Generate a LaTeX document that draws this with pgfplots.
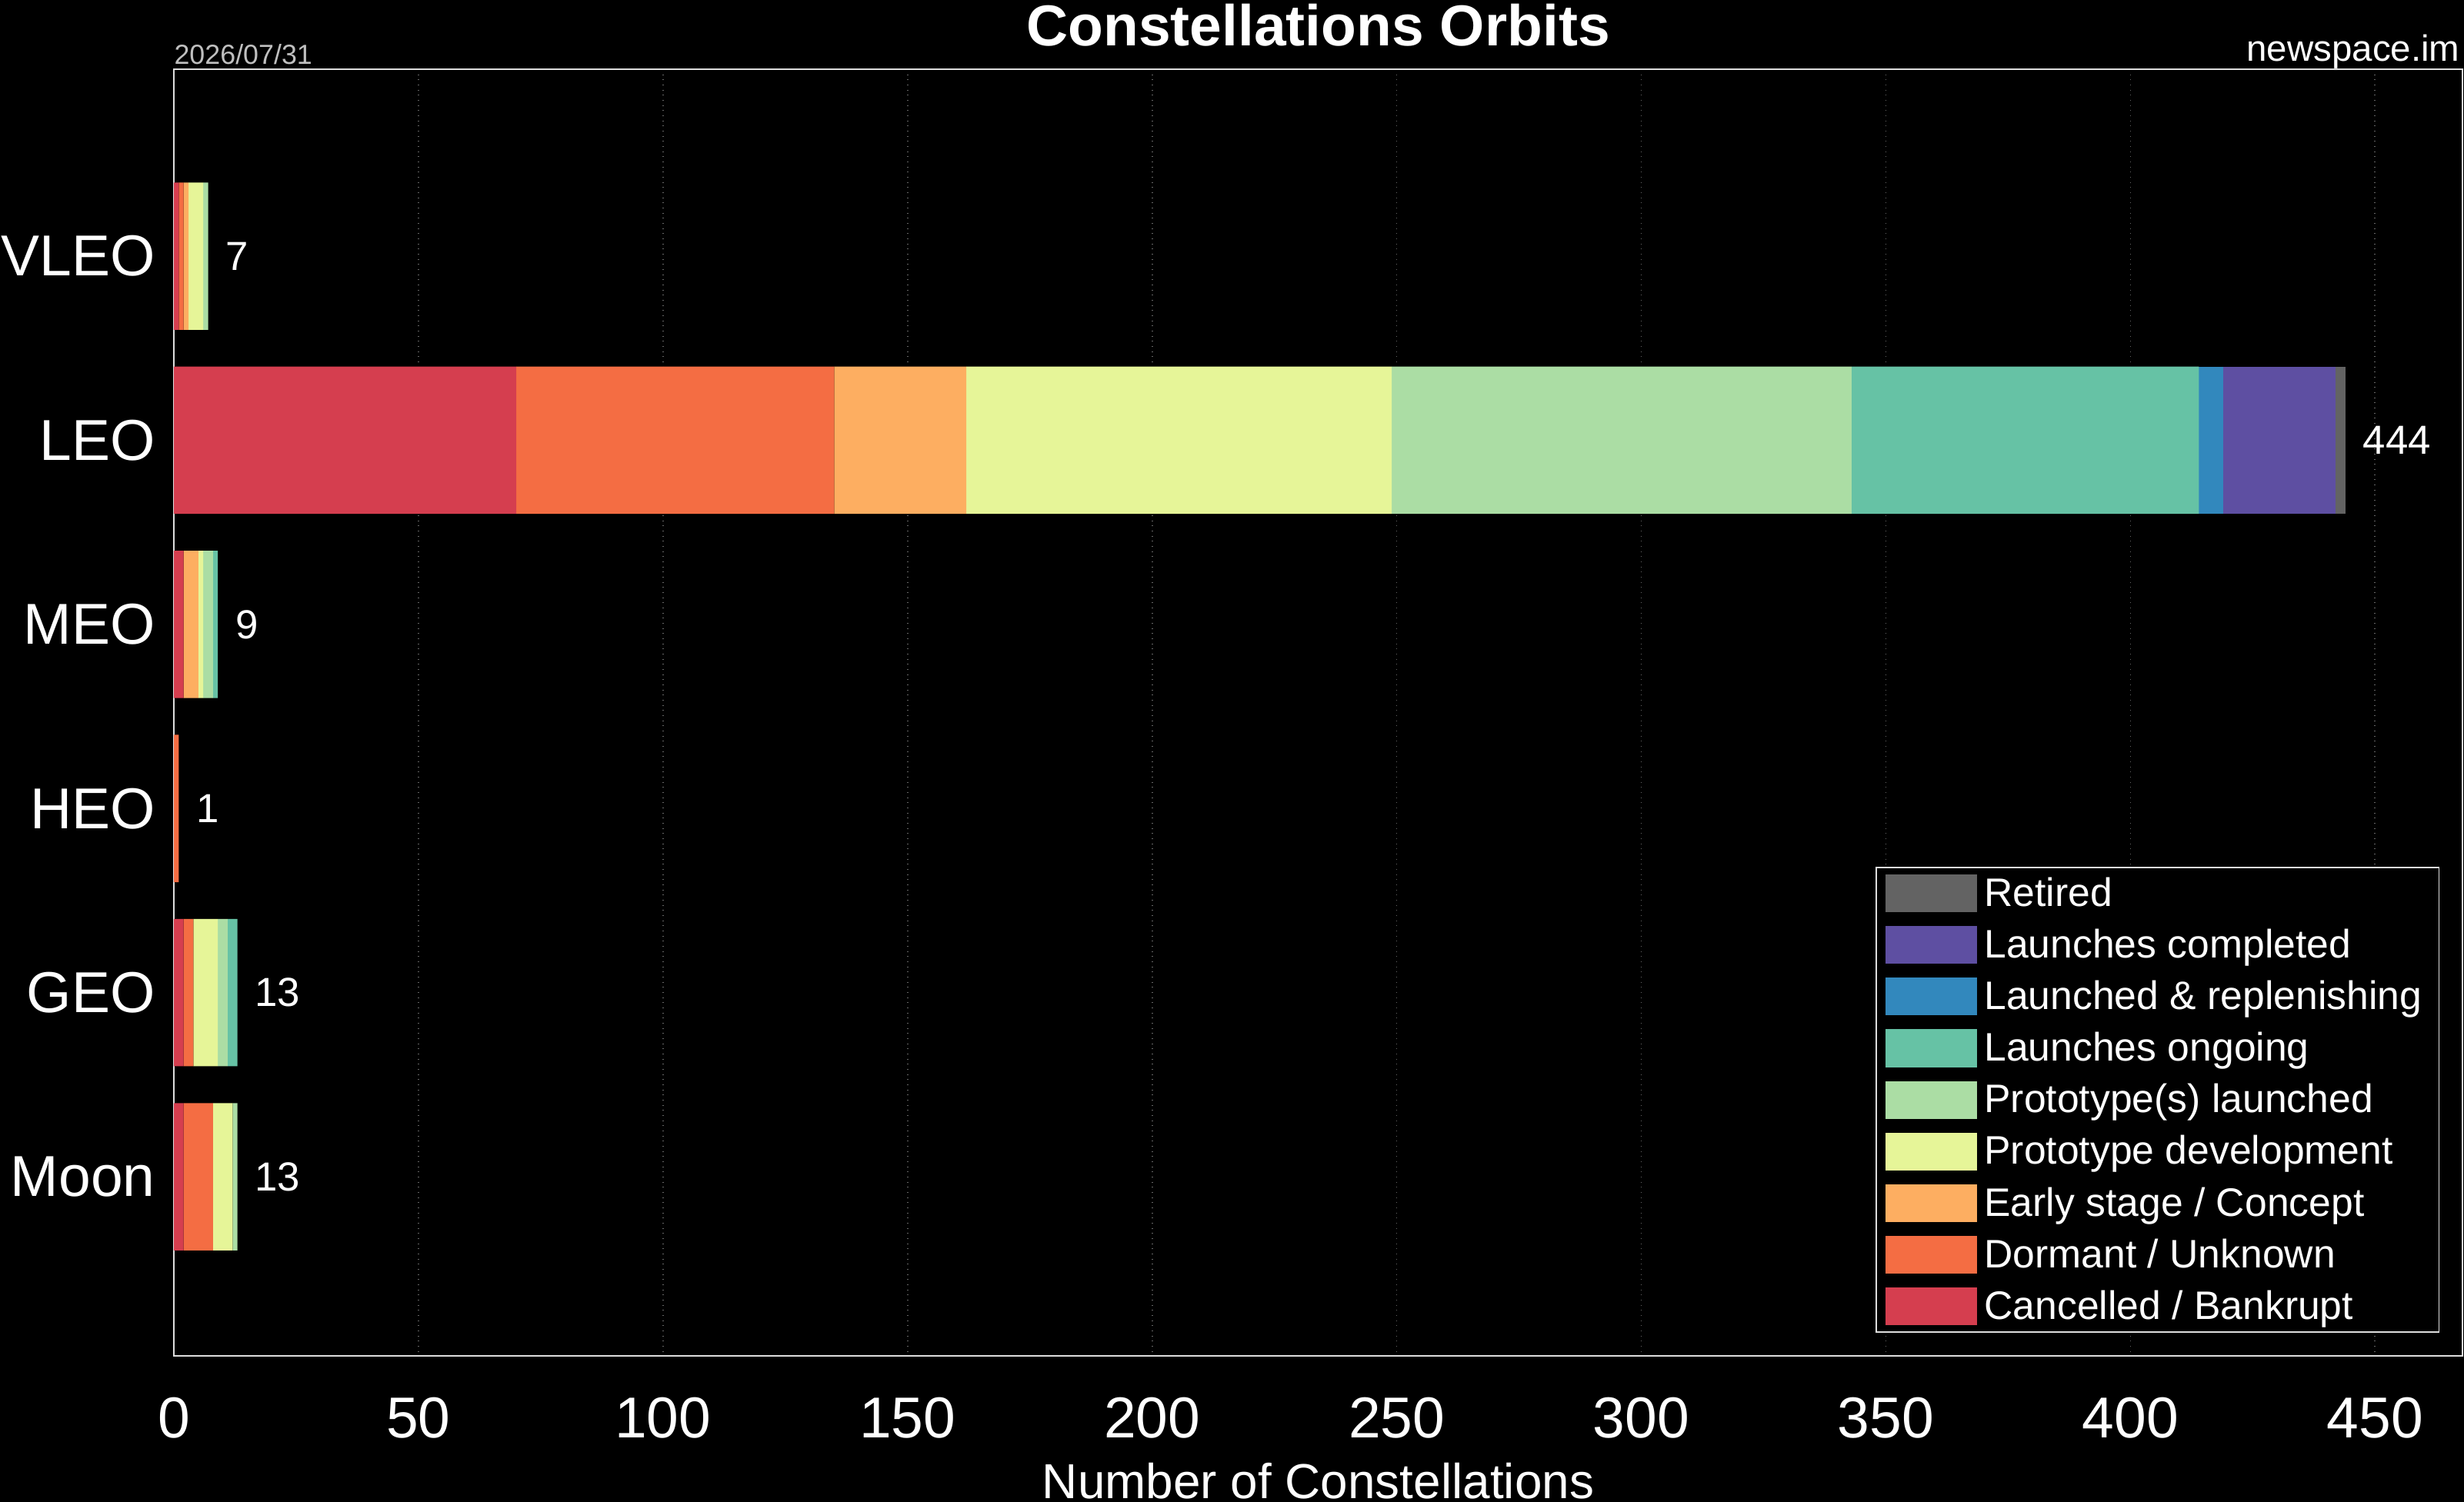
\documentclass[border=0pt]{standalone}
\usepackage{pgfplots}
\pgfplotsset{compat=1.18}
\usepackage{pgfplotstable}
\usepackage{fontspec}
\setmainfont{Liberation Sans}

\definecolor{cCancel}{HTML}{D53E4F}
\definecolor{cDormant}{HTML}{F46D43}
\definecolor{cEarly}{HTML}{FDAE61}
\definecolor{cProtoDev}{HTML}{E6F598}
\definecolor{cProtoLaunch}{HTML}{ABDDA4}
\definecolor{cOngoing}{HTML}{66C2A5}
\definecolor{cReplen}{HTML}{3288BD}
\definecolor{cCompleted}{HTML}{5E4FA2}
\definecolor{cRetired}{HTML}{636363}
\definecolor{frameC}{HTML}{DDDDDD}
\definecolor{gridC}{HTML}{666666}

\pgfplotstableread{
y Cancelled Dormant Early ProtoDev ProtoLaunched Ongoing Replenishing Completed Retired Total
0 1 1 1 3 1 0 0 0 0 7
1 70 65 27 87 94 71 5 23 2 444
2 2 0 3 1 2 1 0 0 0 9
3 0 1 0 0 0 0 0 0 0 1
4 2 2 0 5 2 2 0 0 0 13
5 2 6 0 4 1 0 0 0 0 13
}\orbits

\begin{document}
\begin{tikzpicture}
\fill[black] (0pt,0pt) rectangle (1153.08pt,-703.08pt);
\useasboundingbox (0pt,0pt) rectangle (1153.08pt,-703.08pt);
\begin{axis}[
  at={(81.36pt,-634.68pt)}, anchor=south west,
  width=1071pt, height=602.28pt, scale only axis,
  xbar stacked, bar width=0.8,
  xmin=0, xmax=467.9,
  ymin=-1.015, ymax=5.973, y dir=reverse,
  ytick={0,...,5}, yticklabels={VLEO,LEO,MEO,HEO,GEO,Moon},
  xtick={0,50,...,450},
  major tick length=0pt,
  axis line style={draw=frameC, line width=0.8pt},
  xmajorgrids, grid style={dotted, draw=gridC, line width=0.6pt},
  tick label style={font=\fontsize{27}{32}\selectfont, text=white},
  /pgf/number format/assume math mode=true,
  yticklabel style={inner sep=0pt, xshift=-8.6pt},
  xticklabel style={inner sep=0pt, anchor=base, yshift=-38.2pt},
  xlabel={Number of Constellations},
  xlabel style={font=\fontsize{23}{28}\selectfont, text=white, anchor=base, at={(axis description cs:0.5,0)}, yshift=-66.8pt, inner sep=0pt},
  title={Constellations Orbits},
  title style={font=\bfseries\fontsize{27}{32}\selectfont, text=white, anchor=base, at={(axis description cs:0.5,1)}, yshift=5pt, inner sep=0pt},
  reverse legend,
  legend cell align=left,
  legend style={at={(0.990,0.018)}, anchor=south east, fill=black, draw=frameC, line width=0.6pt, text=white,
    font=\fontsize{18.6}{22}\selectfont, inner xsep=4.5pt, inner ysep=3pt, row sep=6.2pt,
    nodes={inner xsep=3.5pt, inner ysep=1.5pt}},
  legend image code/.code={\fill[#1] (0pt,-8.85pt) rectangle (42.6pt,8.85pt);},
]
\addplot[fill=cCancel, draw=none] table[x=Cancelled, y=y] {\orbits};
\addlegendentry{Cancelled / Bankrupt}
\addplot[fill=cDormant, draw=none] table[x=Dormant, y=y] {\orbits};
\addlegendentry{Dormant / Unknown}
\addplot[fill=cEarly, draw=none] table[x=Early, y=y] {\orbits};
\addlegendentry{Early stage / Concept}
\addplot[fill=cProtoDev, draw=none] table[x=ProtoDev, y=y] {\orbits};
\addlegendentry{Prototype development}
\addplot[fill=cProtoLaunch, draw=none] table[x=ProtoLaunched, y=y] {\orbits};
\addlegendentry{Prototype(s) launched}
\addplot[fill=cOngoing, draw=none] table[x=Ongoing, y=y] {\orbits};
\addlegendentry{Launches ongoing}
\addplot[fill=cReplen, draw=none] table[x=Replenishing, y=y] {\orbits};
\addlegendentry{Launched \& replenishing}
\addplot[fill=cCompleted, draw=none] table[x=Completed, y=y] {\orbits};
\addlegendentry{Launches completed}
\addplot[fill=cRetired, draw=none] table[x=Retired, y=y] {\orbits};
\addlegendentry{Retired}
\end{axis}
\begin{axis}[
  at={(81.36pt,-634.68pt)}, anchor=south west,
  width=1071pt, height=602.28pt, scale only axis,
  xbar, bar width=0.8,
  xmin=0, xmax=467.9,
  ymin=-1.015, ymax=5.973, y dir=reverse,
  hide axis, clip=false,
  /pgf/number format/assume math mode=true,
  nodes near coords, point meta=x,
  every node near coord/.append style={font=\fontsize{19}{23}\selectfont, text=white, anchor=west, inner sep=0pt, xshift=8pt},
]
\addplot[draw=none, fill=none] table[x=Total, y=y] {\orbits};
\end{axis}
\node[anchor=base west, inner sep=0pt, text=white!75!black, font=\fontsize{12.9}{15}\selectfont] at (81.36pt,-30.24pt) {2026/07/31};
\node[anchor=base east, inner sep=0pt, text=white, font=\fontsize{17.1}{20}\selectfont] at (1151.3pt,-28.8pt) {newspace.im};
\end{tikzpicture}
\end{document}
